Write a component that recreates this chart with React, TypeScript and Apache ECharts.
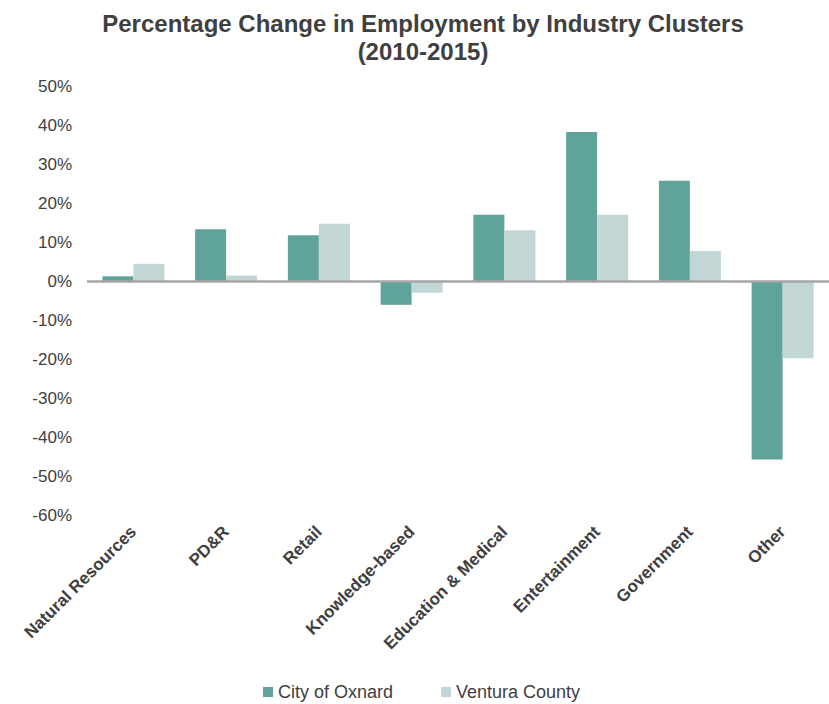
import React, { useEffect, useRef } from "react";
import * as echarts from "echarts";

const categories = [
  "Natural Resources",
  "PD&R",
  "Retail",
  "Knowledge-based",
  "Education & Medical",
  "Entertainment",
  "Government",
  "Other",
];
const oxnard = [1.2, 13.3, 11.7, -6.1, 17.0, 38.2, 25.7, -45.8];
const ventura = [4.4, 1.4, 14.7, -3.0, 13.0, 17.0, 7.7, -19.8];
const seriesNames = ["City of Oxnard", "Ventura County"];
const titleLines = ["Percentage Change in Employment by Industry Clusters", "(2010-2015)"];

const FONT = "'Liberation Sans', Arial, sans-serif";

export default function App() {
  const ref = useRef<HTMLDivElement>(null);
  useEffect(() => {
    if (!ref.current) return;
    const chart = echarts.init(ref.current, undefined, { renderer: "svg" });
    chart.setOption({
      animation: false,
      backgroundColor: "#ffffff",
      title: {
        text: titleLines.join("\n"),
        left: 418,
        top: 4,
        textAlign: "center",
        textStyle: {
          fontFamily: FONT,
          fontSize: 24,
          fontWeight: "bold",
          color: "#404040",
          lineHeight: 28,
        },
      },
      legend: {
        data: seriesNames,
        left: 263,
        top: 682,
        padding: 0,
        itemWidth: 10,
        itemHeight: 10,
        itemGap: 48,
        icon: "rect",
        textStyle: { fontFamily: FONT, fontSize: 18, color: "#404040", lineHeight: 20 },
      },
      grid: { left: 87, right: 0, top: 86, bottom: 189, containLabel: false },
      xAxis: {
        type: "category",
        data: categories,
        axisLine: { show: false, onZero: false },
        axisTick: { show: false },
        axisLabel: {
          interval: 0,
          rotate: 45,
          margin: 14,
          fontFamily: FONT,
          fontSize: 17,
          fontWeight: "bold",
          color: "#404040",
        },
      },
      yAxis: {
        type: "value",
        min: -60,
        max: 50,
        interval: 10,
        axisLine: { show: false },
        axisTick: { show: false },
        splitLine: { show: false },
        axisLabel: {
          formatter: "{value}%",
          margin: 15,
          fontFamily: FONT,
          fontSize: 17,
          color: "#404040",
        },
      },
      series: [
        {
          name: seriesNames[0],
          type: "bar",
          data: oxnard,
          barWidth: 31,
          barGap: "0%",
          itemStyle: { color: "#5fa39a" },
          markLine: {
            silent: true,
            symbol: "none",
            label: { show: false },
            lineStyle: { color: "#a6a6a6", width: 2.5, type: "solid" },
            data: [{ yAxis: 0 }],
          },
        },
        {
          name: seriesNames[1],
          type: "bar",
          data: ventura,
          barWidth: 31,
          barGap: "0%",
          itemStyle: { color: "#c2d7d5" },
        },
      ],
    });
    return () => chart.dispose();
  }, []);
  return (
    <div
      ref={ref}
      style={{ position: "absolute", left: 0, top: 0, width: 829, height: 704 }}
    />
  );
}
